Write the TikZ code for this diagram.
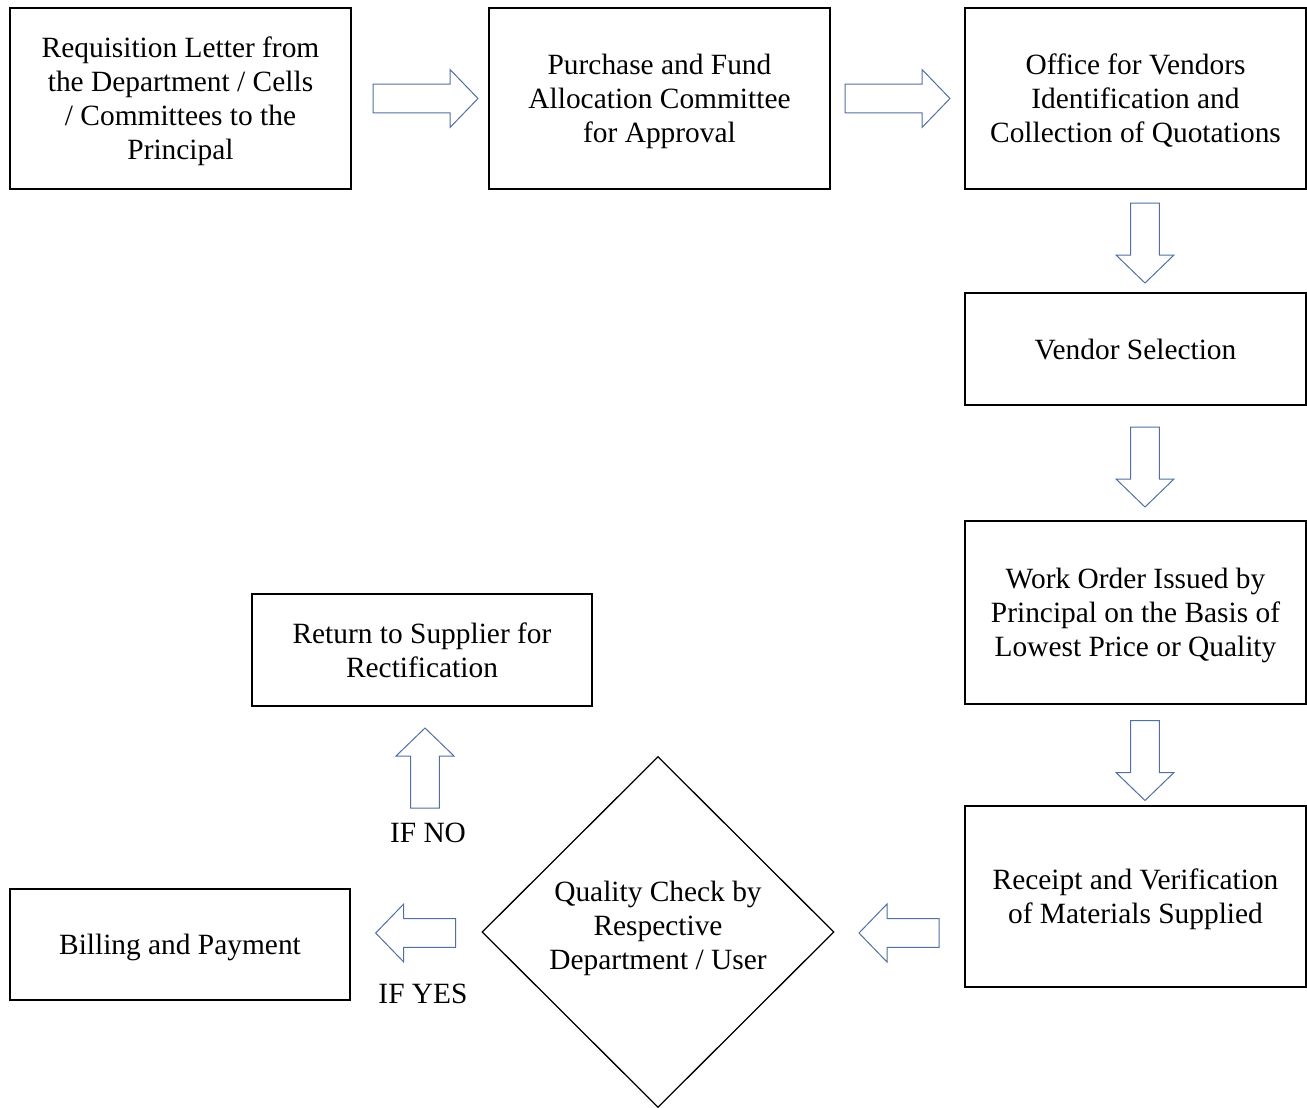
\documentclass[tikz,border=0pt]{standalone}
\usepackage{fontspec}
\setmainfont{Liberation Serif}
\usetikzlibrary{shapes.geometric}
\definecolor{arrowblue}{RGB}{82,112,164}
\tikzset{
  box/.style={draw=black, line width=1.3pt, rectangle, inner sep=0pt, align=center,
    font=\fontsize{29.4}{34}\selectfont, minimum width=341pt, text depth=0pt},
  lbl/.style={inner sep=0pt, align=center, font=\fontsize{29.4}{34}\selectfont, text depth=0pt},
  pics/blockarrow/.style={code={
    \draw[draw=arrowblue, line width=1pt, line join=miter, fill=white]
      ({-#1/2},-14.3) -- ({#1/2-28},-14.3) -- ({#1/2-28},-29) -- ({#1/2},0)
      -- ({#1/2-28},29) -- ({#1/2-28},14.3) -- ({-#1/2},14.3) -- cycle;
  }}
}
\begin{document}
\begin{tikzpicture}[x=1pt,y=-1pt]
\useasboundingbox (0,0) rectangle (1307,1108);
\fill[white] (0,0) rectangle (1307,1108);

\node[box, minimum height=181pt] (req) at (180.5,98.5)
  {Requisition Letter from\\the Department / Cells\\/ Committees to the\\Principal};
\node[box, minimum height=181pt] (pur) at (659.5,98.5)
  {Purchase and Fund\\Allocation Committee\\for Approval};
\node[box, minimum height=181pt] (off) at (1135.5,98.5)
  {Office for Vendors\\Identification and\\Collection of Quotations};
\node[box, minimum height=112pt] (ven) at (1135.5,349)
  {Vendor Selection};
\node[box, minimum height=183pt] (wo) at (1135.5,612.5)
  {Work Order Issued by\\Principal on the Basis of\\Lowest Price or Quality};
\node[box, minimum height=181pt] (rec) at (1135.5,896.5)
  {Receipt and Verification\\of Materials Supplied};
\node[draw=black, line width=1.3pt, diamond, aspect=1, inner sep=0pt,
  minimum width=352pt, minimum height=351pt] (qc) at (658,932) {};
\node[lbl] (qctext) at (658,925) {Quality Check by\\Respective\\Department / User};
\node[box, minimum width=340pt, minimum height=112pt] (ret) at (422,650)
  {Return to Supplier for\\Rectification};
\node[box, minimum width=340pt, minimum height=111pt] (bill) at (180,944.5)
  {Billing and Payment};

\node[lbl] (ifno) at (428,833) {IF NO};
\node[lbl] (ifyes) at (423,994) {IF YES};

% block arrows
\pic at (425.5,98.5) {blockarrow=105};
\pic at (897.5,98.5) {blockarrow=105};
\pic[rotate=-90] at (1145,243) {blockarrow=80};
\pic[rotate=-90] at (1145,467) {blockarrow=80};
\pic[rotate=-90] at (1145,760.5) {blockarrow=80};
\pic[rotate=180] at (899,933) {blockarrow=80};
\pic[rotate=180] at (415.7,933) {blockarrow=80};
\pic[rotate=90] at (425,768) {blockarrow=80};
\end{tikzpicture}
\end{document}
